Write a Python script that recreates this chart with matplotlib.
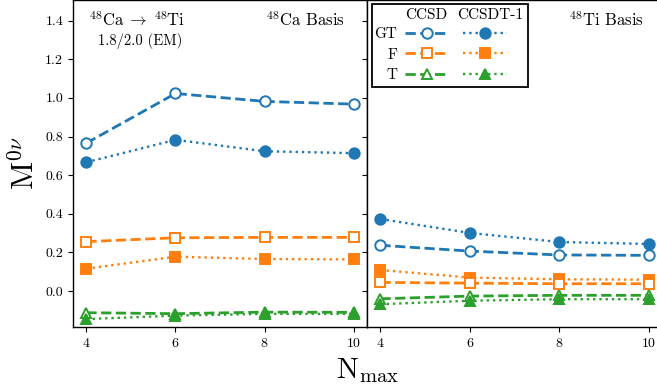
import matplotlib
matplotlib.use("Agg")
import matplotlib.pyplot as plt
from matplotlib.patches import Rectangle

plt.rcParams.update({
    "font.family": "serif",
    "font.serif": ["cmr10"],
    "mathtext.fontset": "cm",
    "axes.unicode_minus": False,
    "axes.formatter.use_mathtext": True,
    "xtick.labelsize": 10,
    "ytick.labelsize": 10,
    "xtick.major.size": 3.5,
    "ytick.major.size": 3.5,
    "axes.linewidth": 1.0,
})

# Model-space truncation
nmax = [4, 6, 8, 10]

# 48Ca reference basis
ca_gt_ccsd = [0.766, 1.023, 0.982, 0.968]
ca_gt_ccsdt = [0.667, 0.783, 0.724, 0.714]
ca_f_ccsd = [0.256, 0.276, 0.278, 0.278]
ca_f_ccsdt = [0.116, 0.178, 0.166, 0.164]
ca_t_ccsd = [-0.112, -0.117, -0.109, -0.110]
ca_t_ccsdt = [-0.145, -0.127, -0.118, -0.118]

# 48Ti reference basis
ti_gt_ccsd = [0.237, 0.207, 0.187, 0.185]
ti_gt_ccsdt = [0.373, 0.301, 0.254, 0.244]
ti_f_ccsd = [0.045, 0.041, 0.038, 0.038]
ti_f_ccsdt = [0.109, 0.070, 0.061, 0.059]
ti_t_ccsd = [-0.040, -0.026, -0.022, -0.022]
ti_t_ccsdt = [-0.068, -0.050, -0.042, -0.042]

yticks = [0.0, 0.2, 0.4, 0.6, 0.8, 1.0, 1.2, 1.4]
xticks = [4, 6, 8, 10]

blue, orange, green = "#1f77b4", "#ff7f0e", "#2ca02c"

fig = plt.figure(figsize=(6.57, 3.87), dpi=100)
W, H = 657.0, 387.0
ax_l = fig.add_axes([73 / W, 1 - 327 / H, 294 / W, 327 / H])
ax_r = fig.add_axes([367 / W, 1 - 327 / H, 295 / W, 327 / H], sharey=ax_l)

lw_dash, lw_dot, ms, mew = 2.0, 1.7, 7.5, 1.4
open_kw = dict(ls="--", mfc="white", ms=ms, mew=mew, lw=lw_dash)
fill_kw = dict(ls=":", ms=ms, mew=mew, lw=lw_dot)


def draw_panel(ax, gt_sd, gt_t, f_sd, f_t, t_sd, t_t):
    h = {}
    h["gt_sd"], = ax.plot(nmax, gt_sd, marker="o", color=blue, zorder=3, **open_kw)
    h["gt_t"], = ax.plot(nmax, gt_t, marker="o", color=blue, zorder=3, **fill_kw)
    h["f_t"], = ax.plot(nmax, f_t, marker="s", color=orange, zorder=3, **fill_kw)
    h["f_sd"], = ax.plot(nmax, f_sd, marker="s", color=orange, zorder=3.1, **open_kw)
    h["t_sd"], = ax.plot(nmax, t_sd, marker="^", color=green, zorder=3, **open_kw)
    h["t_t"], = ax.plot(nmax, t_t, marker="^", color=green, zorder=3.1, **fill_kw)
    ax.set_xlim(3.7, 10.3)
    ax.set_xticks(xticks)
    return h


draw_panel(ax_l, ca_gt_ccsd, ca_gt_ccsdt, ca_f_ccsd, ca_f_ccsdt, ca_t_ccsd, ca_t_ccsdt)
hr = draw_panel(ax_r, ti_gt_ccsd, ti_gt_ccsdt, ti_f_ccsd, ti_f_ccsdt, ti_t_ccsd, ti_t_ccsdt)

ax_l.set_ylim(-0.186, 1.507)
ax_l.set_yticks(yticks)
ax_l.set_yticklabels([f"{v:.1f}" for v in yticks])
ax_r.tick_params(labelleft=False)

ax_l.set_ylabel(r"$\mathrm{M}^{0\nu}$", fontsize=22, labelpad=4)
fig.text(367 / W, 1 - 378 / H, r"$\mathrm{N}_{\mathrm{max}}$", fontsize=21,
         ha="center", va="baseline")

# Panel annotations
ax_l.text(0.219, 0.920, r"$^{48}$Ca$\;\rightarrow\;$$^{48}$Ti", transform=ax_l.transAxes,
          fontsize=12, ha="center", va="baseline")
ax_l.text(0.228, 0.862, "1.8/2.0 (EM)", transform=ax_l.transAxes,
          fontsize=10.5, ha="center", va="baseline")
ax_l.text(0.925, 0.920, r"$^{48}$Ca Basis", transform=ax_l.transAxes,
          fontsize=12, ha="right", va="baseline")
ax_r.text(0.939, 0.920, r"$^{48}$Ti Basis", transform=ax_r.transAxes,
          fontsize=12, ha="right", va="baseline")

# Legend: rows GT/F/T, columns CCSD / CCSDT-1
handles = [hr["gt_sd"], hr["f_sd"], hr["t_sd"], hr["gt_t"], hr["f_t"], hr["t_t"]]
labels = ["GT", "F", "T", "", "", ""]
leg = ax_r.legend(handles, labels, ncol=2, markerfirst=False, frameon=False,
                  loc="center right", bbox_to_anchor=(0.4746, 0.832),
                  borderpad=0, borderaxespad=0, fontsize=11,
                  handlelength=2.88, handletextpad=0.52, columnspacing=0.4,
                  labelspacing=0.45)
ax_r.text(0.200, 0.955, "CCSD", transform=ax_r.transAxes, fontsize=11,
          ha="center", va="center")
ax_r.text(0.417, 0.955, "CCSDT-1", transform=ax_r.transAxes, fontsize=11,
          ha="center", va="center")
ax_r.add_patch(Rectangle((0.016, 0.734), 0.529, 0.254, transform=ax_r.transAxes,
                         fill=False, edgecolor="black", lw=1.3, zorder=5))

fig.savefig("out.png", dpi=100)
